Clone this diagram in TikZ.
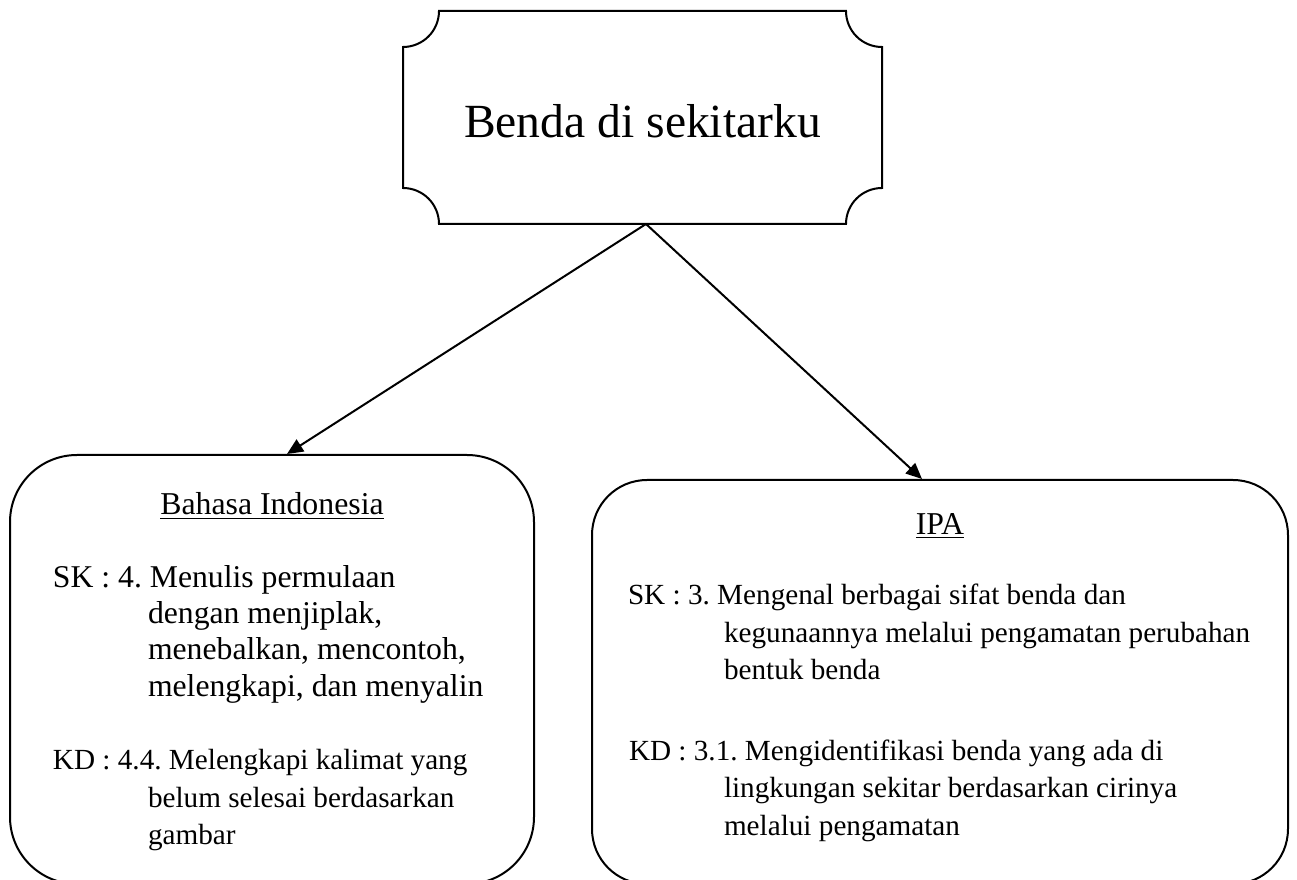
\documentclass[tikz,border=0pt]{standalone}
\usepackage{fontspec}
\setmainfont{Liberation Serif}
\usetikzlibrary{arrows.meta}
\frenchspacing

\begin{document}
\begin{tikzpicture}[x=0.5pt,y=0.5pt,line width=1pt,
  bigtxt/.style={anchor=base,inner sep=0,font=\fontsize{23.8pt}{28pt}\selectfont},
  headtxt/.style={anchor=base,inner sep=0,font=\fontsize{15.9pt}{18pt}\selectfont},
  bodytxt/.style={anchor=base west,inner sep=0,font=\fontsize{14.6pt}{18pt}\selectfont},
  wider/.style={font=\fontsize{15.85pt}{18pt}\selectfont},
  subjbox/.style={draw,rectangle,inner sep=0},
  link/.style={-{Triangle[length=8pt,width=7pt]}}]
\useasboundingbox (0,0) rectangle (1297,879);
% topic box with cut-in corners
\node[minimum width=238.5pt,minimum height=105.5pt,inner sep=0] (topic) at (642.5,761.5) {};
\draw ([xshift=18pt]topic.north west) -- ([xshift=-18pt]topic.north east)
  arc[start angle=180,end angle=270,radius=18pt] -- ([yshift=18pt]topic.south east)
  arc[start angle=90,end angle=180,radius=18pt] -- ([xshift=18pt]topic.south west)
  arc[start angle=0,end angle=90,radius=18pt] -- ([yshift=-18pt]topic.north west)
  arc[start angle=270,end angle=360,radius=18pt] -- cycle;
\node[bigtxt] (topictxt) at (642.5,741) {Benda di sekitarku};
% subject boxes
\node[subjbox,rounded corners=33.5pt,minimum width=262pt,minimum height=214.5pt] (bind) at (272,209.5) {};
\node[subjbox,rounded corners=27.5pt,minimum width=348pt,minimum height=202pt] (ipa) at (940,197) {};
\draw[link] ([xshift=1.75pt]topic.south) -- ([xshift=7.5pt]bind.north);
\draw[link] ([xshift=1.75pt]topic.south) -- ([xshift=-9pt]ipa.north);
% Bahasa Indonesia
\node[headtxt] (bindhead) at (272,364) {\underline{Bahasa Indonesia}};
\node[bodytxt,wider] (bsk) at (52,291) {SK : 4. Menulis permulaan};
\node[bodytxt,wider] (bsk2) at (147,255) {dengan menjiplak,};
\node[bodytxt,wider] (bsk3) at (147,219) {menebalkan, mencontoh,};
\node[bodytxt,wider] (bsk4) at (147,182) {melengkapi, dan menyalin};
\node[bodytxt] (bkd) at (52,109) {KD : 4.4. Melengkapi kalimat yang};
\node[bodytxt] (bkd2) at (147,71) {belum selesai berdasarkan};
\node[bodytxt] (bkd3) at (147,34) {gambar};
% IPA
\node[headtxt] (ipahead) at (940,344) {\underline{IPA}};
\node[bodytxt] (isk) at (627,274) {SK : 3. Mengenal berbagai sifat benda dan};
\node[bodytxt] (isk2) at (723,236) {kegunaannya melalui pengamatan perubahan};
\node[bodytxt] (isk3) at (723,199) {bentuk benda};
\node[bodytxt] (ikd) at (628,119) {KD : 3.1. Mengidentifikasi benda yang ada di};
\node[bodytxt] (ikd2) at (723,82) {lingkungan sekitar berdasarkan cirinya};
\node[bodytxt] (ikd3) at (723,43) {melalui pengamatan};
\end{tikzpicture}
\end{document}
